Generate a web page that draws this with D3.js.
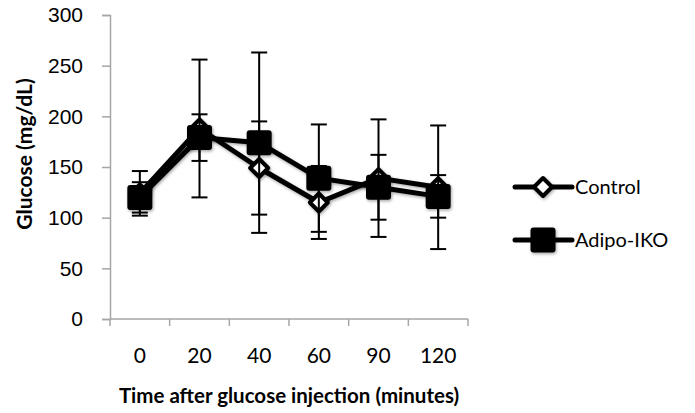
<!DOCTYPE html>
<html>
<head>
<meta charset="utf-8">
<script src="https://cdn.jsdelivr.net/npm/d3@7"></script>
<style>
  body { margin: 0; background: #fff; }
</style>
</head>
<body>
<div id="chart"></div>
<script>
const timePoints = ["0", "20", "40", "60", "90", "120"];
const controlMean = [124, 188, 149, 115, 139, 130];
const controlErr = [22, 68, 46, 36, 58, 61];
const adipoMean = [120, 179, 174, 139, 130, 121];
const adipoErr = [15, 23, 89, 53, 32, 21];
const yTicks = [0, 50, 100, 150, 200, 250, 300];

const width = 695;
const height = 413;
const margin = { top: 15, right: 227, bottom: 94, left: 110 };

const svg = d3.select("#chart")
  .append("svg")
  .attr("width", width)
  .attr("height", height)
  .style("font-family", "Lato, 'Open Sans', sans-serif");

// soft shadow like the Excel markers
const defs = svg.append("defs");
defs.append("filter")
  .attr("id", "shadow")
  .attr("x", "-50%").attr("y", "-50%")
  .attr("width", "200%").attr("height", "200%")
  .append("feDropShadow")
  .attr("dx", 1).attr("dy", 1.5)
  .attr("stdDeviation", 1.5)
  .attr("flood-color", "#000")
  .attr("flood-opacity", 0.35);

const x = d3.scaleBand()
  .domain(timePoints)
  .range([margin.left, width - margin.right]);

const y = d3.scaleLinear()
  .domain([0, 300])
  .range([height - margin.bottom, margin.top]);

// y axis
svg.append("g")
  .attr("transform", `translate(${margin.left},0)`)
  .call(d3.axisLeft(y).tickValues(yTicks).tickSize(8).tickPadding(19))
  .call(g => g.select(".domain").attr("stroke", "#a6a6a6").attr("stroke-width", 1.5))
  .call(g => g.selectAll(".tick line").attr("stroke", "#a6a6a6").attr("stroke-width", 1.5))
  .call(g => g.selectAll("text").attr("fill", "#000").style("font-size", "21px"));

// x axis with ticks between categories
const xAxis = svg.append("g")
  .attr("transform", `translate(0,${y(0)})`);

xAxis.append("line")
  .attr("x1", x.range()[0]).attr("x2", x.range()[1])
  .attr("stroke", "#a6a6a6").attr("stroke-width", 1.5);

const edges = timePoints.map(t => x(t)).concat([x.range()[1]]);
xAxis.selectAll("line.tk")
  .data(edges)
  .join("line")
  .attr("class", "tk")
  .attr("x1", d => d).attr("x2", d => d)
  .attr("y1", 0).attr("y2", 7)
  .attr("stroke", "#a6a6a6").attr("stroke-width", 1.5);

xAxis.selectAll("text")
  .data(timePoints)
  .join("text")
  .attr("x", d => x(d) + x.bandwidth() / 2)
  .attr("y", 44)
  .attr("text-anchor", "middle")
  .style("font-size", "21px")
  .text(d => d);

// axis titles
svg.append("text")
  .attr("x", x.range()[0] + (x.range()[1] - x.range()[0]) / 2)
  .attr("y", 403)
  .attr("text-anchor", "middle")
  .style("font-size", "20.5px")
  .style("font-weight", "bold")
  .text("Time after glucose injection (minutes)");

svg.append("text")
  .attr("transform", "translate(32,154) rotate(-90)")
  .attr("text-anchor", "middle")
  .style("font-size", "21px")
  .style("font-weight", "bold")
  .text("Glucose (mg/dL)");

const cx = t => x(t) + x.bandwidth() / 2;

const series = [
  { name: "Control", mean: controlMean, err: controlErr, marker: "diamond" },
  { name: "Adipo-IKO", mean: adipoMean, err: adipoErr, marker: "square" }
];

const line = d3.line()
  .x((d, i) => cx(timePoints[i]))
  .y(d => y(d));

function drawMarker(g, type, px, py) {
  if (type === "square") {
    g.append("rect")
      .attr("x", px - 12.5).attr("y", py - 12.5)
      .attr("width", 25).attr("height", 25)
      .attr("rx", 3)
      .attr("fill", "#000")
      .attr("filter", "url(#shadow)");
  } else {
    g.append("path")
      .attr("d", `M${px},${py - 9}L${px + 9},${py}L${px},${py + 9}L${px - 9},${py}Z`)
      .attr("fill", "#fff")
      .attr("stroke", "#000")
      .attr("stroke-width", 4)
      .attr("stroke-linejoin", "round")
      .attr("filter", "url(#shadow)");
  }
}

series.forEach(s => {
  const g = svg.append("g");

  g.append("path")
    .attr("d", line(s.mean))
    .attr("fill", "none")
    .attr("stroke", "#000")
    .attr("stroke-width", 5)
    .attr("stroke-linejoin", "round")
    .attr("filter", "url(#shadow)");

  // error bars
  s.mean.forEach((m, i) => {
    const px = cx(timePoints[i]);
    const top = y(m + s.err[i]);
    const bot = y(m - s.err[i]);
    g.append("line")
      .attr("x1", px).attr("x2", px).attr("y1", top).attr("y2", bot)
      .attr("stroke", "#000").attr("stroke-width", 2);
    [top, bot].forEach(v => {
      g.append("line")
        .attr("x1", px - 8).attr("x2", px + 8).attr("y1", v).attr("y2", v)
        .attr("stroke", "#000").attr("stroke-width", 2);
    });
  });

  s.mean.forEach((m, i) => drawMarker(g, s.marker, cx(timePoints[i]), y(m)));
});

// legend
const legend = svg.append("g");
series.forEach((s, i) => {
  const ly = 187 + i * 53;
  const lg = legend.append("g");
  lg.append("line")
    .attr("x1", 515).attr("x2", 572)
    .attr("y1", ly).attr("y2", ly)
    .attr("stroke", "#000").attr("stroke-width", 5)
    .attr("stroke-linecap", "round");
  drawMarker(lg, s.marker, 543, ly);
  lg.append("text")
    .attr("x", 575)
    .attr("y", ly)
    .attr("dy", "0.35em")
    .style("font-size", "20px")
    .text(s.name);
});
</script>
</body>
</html>
